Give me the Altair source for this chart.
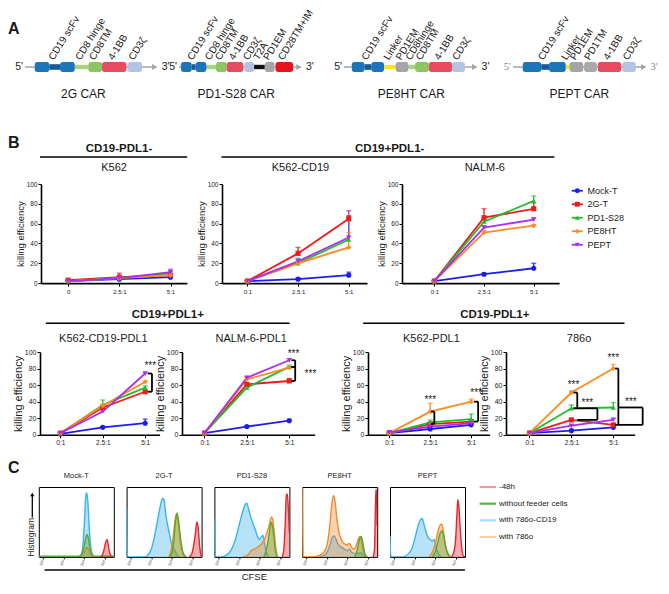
import json
import altair as alt
import pandas as pd

FONT = "Liberation Sans"
INK = "#1a1a1a"

# ======================= Panel A : CAR constructs =======================
CONSTRUCT_NAMES = ["2G CAR", "PD1-S28 CAR", "PE8HT CAR", "PEPT CAR"]
# (part, kind, relative length, label)
CAR_2G = [("lead", "line", 10, ""), ("scFv", "block", 15, "CD19 scFv"), ("neck", "neck", 11, "CD19 scFv"),
          ("scFv", "block", 15, "CD19 scFv"), ("CD8 hinge", "thin", 14, "CD8 hinge"), ("CD8TM", "block", 14, "CD8TM"),
          ("4-1BB", "block", 25, "4-1BB"), ("gap", "line", 1, ""), ("CD3z", "block", 15, "CD3ζ"), ("tail", "line", 15, "")]
CAR_PD1S28 = [("lead", "line", 2, ""), ("scFv", "block", 11, "CD19 scFv"), ("neck", "neck", 4, "CD19 scFv"),
              ("scFv", "block", 11, "CD19 scFv"), ("CD8 hinge", "thin", 10, "CD8 hinge"), ("CD8TM", "block", 11, "CD8TM"),
              ("4-1BB", "block", 17, "4-1BB"), ("gap", "line", 1, ""), ("CD3z", "block", 10, "CD3ζ"),
              ("T2A", "thin", 11, "T2A"), ("PD1EM", "block", 10, "PD1EM"), ("gap", "line", 1, ""),
              ("CD28TM+IM", "block", 18, "CD28TM+IM"), ("tail", "line", 8, "")]
CAR_PE8HT = [("lead", "line", 8, ""), ("scFv", "block", 13, "CD19 scFv"), ("neck", "neck", 7, "CD19 scFv"),
             ("scFv", "block", 13, "CD19 scFv"), ("Linker", "thin", 12, "Linker"), ("PD1EM", "block", 13, "PD1EM"),
             ("CD8 hinge", "thin", 7, "CD8hinge"), ("CD8TM", "block", 14, "CD8TM"), ("4-1BB", "block", 24, "4-1BB"),
             ("CD3z", "block", 13, "CD3ζ"), ("tail", "line", 12, "")]
CAR_PEPT = [("lead", "line", 10, ""), ("scFv", "block", 19, "CD19 scFv"), ("neck", "neck", 8, "CD19 scFv"),
            ("scFv", "block", 17, "CD19 scFv"), ("Linker", "thin", 4, "Linker"), ("PD1EM", "block", 14, "PD1EM"),
            ("gap", "line", 1, ""), ("PD1TM", "block", 13, "PD1TM"), ("gap", "line", 1, ""),
            ("4-1BB", "block", 24, "4-1BB"), ("gap", "line", 1, ""), ("CD3z", "block", 14, "CD3ζ"), ("tail", "line", 10, "")]
PART_ORDER = ["scFv", "neck", "CD8 hinge", "CD8TM", "4-1BB", "CD3z", "T2A", "PD1EM", "PD1TM", "CD28TM+IM", "Linker"]
PART_COLORS = ["#1b75bb", "#17599b", "#a9d37f", "#8cc660", "#e84a5f", "#b4c2e3", "#111111", "#a5a5a5", "#a9a9a9",
               "#e8141d", "#f4e81c"]

# ======================= Panel B : killing efficiency =======================
SERIES = ["Mock-T", "2G-T", "PD1-S28", "PE8HT", "PEPT"]
SERIES_COLORS = ["#1c1cf2", "#f01a1a", "#1fbf2a", "#ff8a1f", "#a92ef0"]
SERIES_SHAPES = ["circle", "square", "triangle-up", "diamond", "triangle-down"]
RATIOS = ["0:1", "2.5:1", "5:1"]
RATIOS_K562 = ["0", "2.5:1", "5:1"]

MEAN = {
    "K562": {"Mock-T": [2, 4, 6], "2G-T": [3, 6, 8], "PD1-S28": [2, 5, 10], "PE8HT": [2, 5, 8], "PEPT": [2, 5, 11]},
    "K562-CD19": {"Mock-T": [2, 4, 8], "2G-T": [2, 30, 65], "PD1-S28": [2, 20, 44], "PE8HT": [2, 20, 36], "PEPT": [2, 22, 46]},
    "NALM-6": {"Mock-T": [2, 9, 15], "2G-T": [2, 66, 75], "PD1-S28": [2, 62, 83], "PE8HT": [2, 51, 58], "PEPT": [2, 56, 64]},
    "K562-CD19-PDL1": {"Mock-T": [1, 9, 14], "2G-T": [2, 33, 52], "PD1-S28": [2, 36, 57], "PE8HT": [2, 35, 64], "PEPT": [2, 28, 74]},
    "NALM-6-PDL1": {"Mock-T": [2, 10, 17], "2G-T": [2, 61, 65], "PD1-S28": [2, 57, 82], "PE8HT": [2, 67, 81], "PEPT": [2, 69, 90]},
    "K562-PDL1": {"Mock-T": [2, 7, 12], "2G-T": [2, 13, 16], "PD1-S28": [2, 15, 19], "PE8HT": [2, 28, 40], "PEPT": [3, 10, 14]},
    "786o": {"Mock-T": [2, 5, 9], "2G-T": [2, 18, 12], "PD1-S28": [2, 32, 33], "PE8HT": [2, 51, 80], "PEPT": [2, 11, 18]},
}
SD = {
    "K562": {"Mock-T": [0.5, 1, 2], "2G-T": [0.5, 4, 1], "PD1-S28": [0.5, 1, 2], "PE8HT": [0.5, 1, 1], "PEPT": [0.5, 1, 3]},
    "K562-CD19": {"Mock-T": [0.5, 1, 3], "2G-T": [0.5, 6, 3], "PD1-S28": [0.5, 5, 19], "PE8HT": [0.5, 2, 15], "PEPT": [0.5, 2, 27]},
    "NALM-6": {"Mock-T": [0.5, 1, 5], "2G-T": [0.5, 9, 6], "PD1-S28": [0.5, 2, 5], "PE8HT": [0.5, 2, 1], "PEPT": [0.5, 2, 2]},
    "K562-CD19-PDL1": {"Mock-T": [0.5, 1, 5], "2G-T": [0.5, 2, 2], "PD1-S28": [0.5, 6, 2], "PE8HT": [0.5, 2, 1], "PEPT": [0.5, 2, 1]},
    "NALM-6-PDL1": {"Mock-T": [0.5, 1, 2], "2G-T": [0.5, 2, 3], "PD1-S28": [0.5, 1, 2], "PE8HT": [0.5, 1, 1], "PEPT": [0.5, 1, 2]},
    "K562-PDL1": {"Mock-T": [0.5, 1, 1], "2G-T": [0.5, 1, 2], "PD1-S28": [0.5, 3, 6], "PE8HT": [0.5, 10, 3], "PEPT": [0.5, 1, 1]},
    "786o": {"Mock-T": [0.5, 1, 1], "2G-T": [0.5, 1, 1], "PD1-S28": [0.5, 4, 6], "PE8HT": [0.5, 2, 5], "PEPT": [0.5, 1, 2]},
}
# significance: target, ratio index, upper series, lower series
SIG = [
    ("K562-CD19-PDL1", 2, "PEPT", "2G-T"),
    ("NALM-6-PDL1", 2, "PEPT", "PD1-S28"),
    ("NALM-6-PDL1", 2, "PD1-S28", "2G-T"),
    ("K562-PDL1", 1, "PE8HT", "2G-T"),
    ("K562-PDL1", 2, "PE8HT", "2G-T"),
    ("786o", 1, "PE8HT", "PD1-S28"),
    ("786o", 1, "PD1-S28", "2G-T"),
    ("786o", 2, "PE8HT", "2G-T"),
    ("786o", 2, "PD1-S28", "2G-T"),
]
# bracket drawing style: vertical-line offset, cap end offset, star x offset, star y offset (None = right side)
SIG_STYLE = [(0.16, 0.06, 0.12, 9), (0.14, 0.05, 0.10, 8), (0.14, 0.05, 0.50, None), (0.10, 0.02, 0.0, 14),
             (0.17, 0.07, 0.12, 10), (0.14, 0.05, 0.05, 9), (0.62, 0.14, 0.38, 6), (0.12, 0.04, 0.0, 13),
             (0.70, 0.12, 0.42, 7)]

# ======================= Panel C : CFSE histograms =======================
HIST_PANELS = ["Mock-T", "2G-T", "PD1-S28", "PE8HT", "PEPT"]
HIST_SERIES = ["-48h", "without feeder cells", "with 786o-CD19", "with 786o"]
HIST_LINE_COLORS = {"-48h": "#e3262e", "without feeder cells": "#5aa832", "with 786o-CD19": "#3cb4e7", "with 786o": "#f28a2e"}
HIST_LEGEND_COLORS = ["#f2979b", "#5db336", "#a8dff6", "#fbcf9f"]
HIST_DRAW = ["with 786o-CD19", "with 786o", "without feeder cells", "-48h"]
# (log10 CFSE, relative count %)
HIST = {
    "Mock-T": {
        "with 786o-CD19": [(3.70, 0), (3.85, 3), (3.95, 17), (4.02, 50), (4.08, 84), (4.13, 92), (4.18, 82), (4.25, 45), (4.32, 17), (4.40, 4), (4.50, 0)],
        "with 786o": [(3.85, 0), (3.98, 5), (4.08, 11), (4.15, 14), (4.22, 10), (4.32, 3), (4.42, 0)],
        "without feeder cells": [(1.80, 1), (3.80, 1), (3.92, 6), (4.02, 17), (4.10, 29), (4.16, 32), (4.22, 25), (4.30, 11), (4.40, 3), (4.48, 1), (5.45, 1)],
        "-48h": [(4.80, 0), (4.90, 3), (4.98, 11), (5.05, 20), (5.12, 25), (5.18, 17), (5.25, 6), (5.32, 1), (5.40, 0)],
    },
    "2G-T": {
        "with 786o-CD19": [(1.80, 70), (1.84, 0), (2.70, 0), (2.85, 3), (3.00, 11), (3.15, 28), (3.30, 51), (3.45, 74), (3.55, 84), (3.62, 82), (3.70, 62), (3.80, 45), (3.88, 34), (3.95, 23), (4.05, 14), (4.15, 9), (4.25, 3), (4.40, 0)],
        "with 786o": [(3.85, 0), (3.95, 7), (4.05, 25), (4.15, 51), (4.22, 61), (4.30, 51), (4.40, 25), (4.50, 8), (4.60, 1), (4.70, 0)],
        "without feeder cells": [(3.90, 0), (4.00, 6), (4.10, 23), (4.18, 51), (4.25, 63), (4.32, 54), (4.42, 28), (4.52, 9), (4.62, 2), (4.72, 0)],
        "-48h": [(4.85, 0), (4.95, 3), (5.05, 14), (5.15, 34), (5.22, 50), (5.28, 43), (5.35, 17), (5.42, 2), (5.45, 0)],
    },
    "PD1-S28": {
        "with 786o-CD19": [(1.80, 55), (1.84, 0), (2.10, 0), (2.40, 3), (2.60, 9), (2.80, 23), (3.00, 45), (3.15, 62), (3.30, 75), (3.38, 77), (3.45, 70), (3.55, 59), (3.65, 50), (3.78, 40), (3.90, 29), (3.99, 25), (4.08, 28), (4.16, 31), (4.25, 17), (4.35, 5), (4.45, 0)],
        "with 786o": [(3.20, 0), (3.44, 3), (3.60, 9), (3.80, 12), (4.00, 16), (4.20, 23), (4.35, 34), (4.48, 47), (4.58, 57), (4.65, 52), (4.72, 34), (4.80, 11), (4.85, 2), (4.90, 0)],
        "without feeder cells": [(4.20, 0), (4.30, 7), (4.40, 20), (4.48, 36), (4.55, 50), (4.60, 47), (4.68, 32), (4.76, 11), (4.83, 2), (4.90, 0)],
        "-48h": [(5.10, 0), (5.18, 11), (5.25, 50), (5.30, 88), (5.35, 90), (5.40, 68), (5.45, 34)],
    },
    "PE8HT": {
        "with 786o-CD19": [(2.60, 0), (2.90, 3), (3.05, 9), (3.15, 17), (3.25, 27), (3.35, 30), (3.45, 25), (3.55, 18), (3.70, 14), (3.85, 11), (4.00, 9), (4.10, 11), (4.20, 7), (4.35, 5), (4.50, 5), (4.65, 6), (4.75, 3), (4.85, 0)],
        "with 786o": [(1.80, 100), (1.84, 0), (2.30, 0), (2.50, 1), (2.70, 3), (2.90, 9), (3.05, 23), (3.15, 47), (3.25, 77), (3.32, 88), (3.40, 79), (3.50, 51), (3.60, 34), (3.70, 25), (3.80, 20), (3.90, 18), (4.00, 17), (4.05, 19), (4.10, 19), (4.20, 14), (4.30, 11), (4.40, 14), (4.50, 23), (4.60, 29), (4.65, 28), (4.72, 17), (4.80, 6), (4.90, 1), (5.00, 0)],
        "without feeder cells": [(4.35, 0), (4.45, 6), (4.55, 20), (4.62, 28), (4.68, 29), (4.75, 20), (4.83, 7), (4.90, 1), (4.95, 0)],
        "-48h": [(5.25, 0), (5.32, 11), (5.36, 68), (5.39, 97), (5.42, 90), (5.45, 45)],
    },
    "PEPT": {
        "with 786o-CD19": [(1.80, 30), (1.84, 0), (2.40, 0), (2.60, 2), (2.71, 5), (2.85, 11), (3.00, 25), (3.15, 43), (3.30, 54), (3.37, 55), (3.45, 47), (3.55, 36), (3.65, 28), (3.75, 25), (3.85, 23), (3.95, 25), (4.00, 19), (4.10, 9), (4.20, 3), (4.30, 0)],
        "with 786o": [(3.70, 0), (3.85, 6), (3.99, 17), (4.10, 32), (4.20, 43), (4.30, 47), (4.38, 40), (4.48, 20), (4.60, 6), (4.75, 1), (4.80, 0)],
        "without feeder cells": [(3.85, 0), (4.00, 7), (4.12, 20), (4.22, 32), (4.32, 37), (4.40, 32), (4.50, 16), (4.60, 5), (4.72, 0)],
        "-48h": [(4.80, 0), (4.90, 6), (5.00, 28), (5.06, 62), (5.10, 82), (5.15, 73), (5.22, 40), (5.30, 11), (5.38, 1), (5.45, 0)],
    },
}

# ======================= tables =======================
rows = []
for tgt in MEAN:
    for s in SERIES:
        for i in range(3):
            rows.append({"target": tgt, "series": s, "xi": i, "mean": MEAN[tgt][s][i], "err": SD[tgt][s][i]})
bdf = pd.DataFrame(rows)

sig_rows = []
for (tgt, ri, up, lo), (vx, cx, sx, sy) in zip(SIG, SIG_STYLE):
    yu, yl = MEAN[tgt][up][ri], MEAN[tgt][lo][ri]
    sig_rows.append({"target": tgt, "xv": ri + vx, "xc": ri + cx, "y_up": yu, "y_lo": yl,
                     "sx": ri + sx, "sy": (yu + yl) / 2 if sy is None else yu + sy, "txt": "***"})
sdf = pd.DataFrame(sig_rows)

hrows = []
for p in HIST_PANELS:
    for s, pts in HIST[p].items():
        for lx, c in pts:
            hrows.append({"panel": p, "series": s, "logc": lx, "count": c})
hdf = pd.DataFrame(hrows)


# ======================= helpers =======================
def label(text, x, y, size, weight="normal", align="center", angle=None, color=INK, font=None, baseline="middle"):
    mk = dict(fontSize=size, fontWeight=weight, align=align, baseline=baseline, color=color)
    if angle is not None:
        mk["angle"] = angle
    if font:
        mk["font"] = font
    return alt.Chart(pd.DataFrame({"t": [text]})).mark_text(**mk).encode(
        text="t:N", x=alt.value(x), y=alt.value(y))


def hline(x0, x1, y, width=1.5, color="#000"):
    return alt.Chart(pd.DataFrame({"a": [0]})).mark_rule(strokeWidth=width, color=color).encode(
        x=alt.value(x0), x2=alt.value(x1), y=alt.value(y))


def spacer(w, h=1, letter=None, ly=0):
    if letter:
        c = label(letter, 0, ly, 16, weight="bold", align="left")
    else:
        c = alt.Chart(pd.DataFrame({"t": [""]})).mark_text().encode(text="t:N")
    return c.properties(width=w, height=h)


COLOR = alt.Color("series:N", scale=alt.Scale(domain=SERIES, range=SERIES_COLORS), legend=None)
SHAPE = alt.Shape("series:N", scale=alt.Scale(domain=SERIES, range=SERIES_SHAPES), legend=None)

# ----- Panel A charts -----
PX_PER_UNIT = 0.975


def construct_chart(segs, name, width, name_x, end_font=None, end_color=INK):
    rs, pos = [], 0.0
    for part, kind, length, lab in segs:
        rs.append({"part": part, "kind": kind, "start": pos, "end": pos + length, "label": lab})
        pos += length
    d = pd.DataFrame(rs)
    total = pos
    xs = alt.Scale(domain=[0, width / PX_PER_UNIT], nice=False, zero=False)

    def X(f):
        return alt.X(f"{f}:Q", scale=xs, axis=None)

    fill = alt.Fill("part:N", scale=alt.Scale(domain=PART_ORDER, range=PART_COLORS), legend=None)
    bb = alt.Chart(pd.DataFrame({"s": [0.0], "e": [total]}))
    backbone = bb.mark_rule(color="#a3a3a3", strokeWidth=1.6).encode(x=X("s"), x2="e:Q", y=alt.value(5))
    head = bb.mark_point(shape="triangle-right", filled=True, size=34, color="#a3a3a3", opacity=1,
                         xOffset=-2).encode(x=X("e"), y=alt.value(5))
    blocks = alt.Chart(d[d.kind == "block"]).mark_rect(cornerRadius=2.5).encode(
        x=X("start"), x2="end:Q", y=alt.value(0), y2=alt.value(10), fill=fill)
    thin = alt.Chart(d[d.kind == "thin"]).mark_rect().encode(
        x=X("start"), x2="end:Q", y=alt.value(2.8), y2=alt.value(7.2), fill=fill)
    neck = alt.Chart(d[d.kind == "neck"]).mark_rect().encode(
        x=X("start"), x2="end:Q", y=alt.value(2.2), y2=alt.value(7.8), fill=fill)
    labs = d[d.label != ""].groupby("label", sort=False).agg(start=("start", "min"), end=("end", "max")).reset_index()
    labs["c"] = (labs["start"] + labs["end"]) / 2
    texts = alt.Chart(labs).mark_text(angle=302, align="left", baseline="alphabetic", fontSize=10, dx=-2,
                                      color=INK).encode(x=X("c"), y=alt.value(-3), text="label:N")
    five = label("5'", -2, 5, 10.5, align="right", color=end_color, font=end_font)
    three = label("3'", total * PX_PER_UNIT + 5, 5, 10.5, align="left", color=end_color, font=end_font)
    nm = label(name, name_x, 32, 12)
    return alt.layer(backbone, thin, neck, blocks, head, texts, five, three, nm).properties(width=width, height=10)


cA1 = construct_chart(CAR_2G, CONSTRUCT_NAMES[0], 153.1, 58.4)
cA2 = construct_chart(CAR_PD1S28, CONSTRUCT_NAMES[1], 164.7, 57.3)
cA3 = construct_chart(CAR_PE8HT, CONSTRUCT_NAMES[2], 168.7, 67.3)
cA4 = construct_chart(CAR_PEPT, CONSTRUCT_NAMES[3], 132.6, 66.3, end_font="Liberation Serif", end_color="#8a8a8a")
rowA = alt.hconcat(spacer(16.6, 10, "A", -33.4), cA1, cA2, cA3, cA4, spacing=0, bounds="flush")


# ----- Panel B charts -----
def line_panel(target, width, height, domain, tick_labels, title_size, label_size, deco):
    d = bdf[bdf.target == target]
    xs = alt.Scale(domain=domain, nice=False, zero=False)
    ys = alt.Scale(domain=[0, 100], nice=False)
    xaxis = alt.Axis(values=[0, 1, 2], labelExpr=json.dumps(tick_labels) + "[datum.value]", title=None,
                     labelFontSize=label_size - 0.5, labelColor="#222", labelPadding=2, tickSize=3,
                     tickColor="#000", tickWidth=1, domainColor="#000", domainWidth=1.6, grid=False)
    yaxis = alt.Axis(values=[0, 20, 40, 60, 80, 100], title="killing efficiency", titleFontSize=title_size,
                     titleFontWeight="normal", titleColor=INK, titlePadding=1, labelFontSize=label_size,
                     labelColor="#222", labelPadding=1, tickSize=3, tickColor="#000", tickWidth=1,
                     domainColor="#000", domainWidth=1.6, grid=False)

    def X(f):
        return alt.X(f"{f}:Q", scale=xs, axis=xaxis)

    def Y(f):
        return alt.Y(f"{f}:Q", scale=ys, axis=yaxis)

    base = alt.Chart(d).transform_calculate(hi="datum.mean + datum.err")
    line = base.mark_line(strokeWidth=1.8).encode(x=X("xi"), y=Y("mean"), color=COLOR)
    err = base.mark_rule(strokeWidth=1.3).encode(x=X("xi"), y=Y("mean"), y2="hi:Q", color=COLOR)
    cap = base.mark_tick(orient="horizontal", size=5, thickness=1.3).encode(x=X("xi"), y=Y("hi"), color=COLOR)
    pts = base.mark_point(filled=True, size=26, opacity=1).encode(x=X("xi"), y=Y("mean"), color=COLOR, shape=SHAPE)
    layers = [line, err, cap, pts]
    sd = sdf[sdf.target == target]
    if len(sd):
        sb = alt.Chart(sd)
        layers += [
            sb.mark_rule(strokeWidth=1.8, color="#000").encode(x=X("xv"), y=Y("y_up"), y2="y_lo:Q"),
            sb.mark_rule(strokeWidth=1.8, color="#000").encode(x=X("xc"), x2="xv:Q", y=Y("y_up")),
            sb.mark_rule(strokeWidth=1.8, color="#000").encode(x=X("xc"), x2="xv:Q", y=Y("y_lo")),
            sb.mark_text(fontSize=10, color=INK).encode(x=X("sx"), y=Y("sy"), text="txt:N"),
        ]
    layers += deco
    return alt.layer(*layers).properties(width=width, height=height)


TOP_H, BOT_H = 99.1, 82.8
P1 = line_panel("K562", 145.9, TOP_H, [-0.53, 2.32], RATIOS_K562, 9.5, 6.5,
                [label("CD19-PDL1-", 78, -34.6, 11.5, weight="bold"), hline(-1, 146.2, -26.9),
                 label("K562", 73.1, -16.3, 11)])
P2 = line_panel("K562-CD19", 145.0, TOP_H, [-0.5, 2.36], RATIOS, 9.5, 6.5,
                [label("CD19+PDL1-", 167.7, -34.6, 11.5, weight="bold"), hline(-0.5, 332.4, -26.9),
                 label("K562-CD19", 78.5, -16.3, 11)])
P3 = line_panel("NALM-6", 157.1, TOP_H, [-0.65, 2.51], RATIOS, 9.5, 6.5,
                [label("NALM-6", 82.8, -16.3, 11)])

leg_df = pd.DataFrame({"series": SERIES})
LY = alt.Y("series:N", scale=alt.Scale(type="point", domain=SERIES, padding=0.5), axis=None)
legB = alt.layer(
    alt.Chart(leg_df).mark_rule(strokeWidth=1.8).encode(x=alt.value(11.8), x2=alt.value(22.8), y=LY, color=COLOR),
    alt.Chart(leg_df).mark_point(filled=True, size=24, opacity=1).encode(x=alt.value(17.3), y=LY, color=COLOR, shape=SHAPE),
    alt.Chart(leg_df).mark_text(align="left", fontSize=9, color=INK).encode(x=alt.value(27.5), y=LY, text="series:N"),
).properties(width=70, height=67.5)

rowB1 = alt.hconcat(spacer(32.2, 1, "B", -41.3), P1, spacer(34.5), P2, spacer(34.5), P3, legB,
                    spacing=0, bounds="flush")

P4 = line_panel("K562-CD19-PDL1", 119.6, BOT_H, [-0.48, 2.34], RATIOS, 11, 7,
                [label("CD19+PDL1+", 127.8, -37.5, 11.5, weight="bold"), hline(5.8, 249.6, -28.8),
                 label("K562-CD19-PDL1", 63.4, -13.4, 11)])
P5 = line_panel("NALM-6-PDL1", 132.7, BOT_H, [-0.53, 2.6], RATIOS, 11, 7,
                [label("NALM-6-PDL1", 69.2, -13.4, 11)])
P6 = line_panel("K562-PDL1", 121.6, BOT_H, [-0.52, 2.45], RATIOS, 11, 7,
                [label("CD19-PDL1+", 126.8, -37.5, 11.5, weight="bold"), hline(-4.8, 256.5, -28.8),
                 label("K562-PDL1", 63.4, -13.4, 11)])
P7 = line_panel("786o", 128.7, BOT_H, [-0.56, 2.51], RATIOS, 11, 7,
                [label("786o", 73.1, -13.4, 11)])

rowB2 = alt.hconcat(spacer(31.2), P4, spacer(21.8), P5, spacer(52.5), P6, spacer(15.9), P7,
                    spacing=0, bounds="flush")

# ----- Panel C charts -----
SUP = ["⁰", "¹", "²", "³", "⁴", "⁵"]
HX_AXIS = alt.Axis(values=[2, 3, 4, 5], labelExpr="'10' + " + json.dumps(SUP) + "[datum.value]", title=None,
                   domain=False, tickSize=2, tickColor="#000", labelFontSize=4, labelAngle=300,
                   labelColor="#333", labelPadding=1, grid=False)
HXS = alt.Scale(domain=[1.8, 5.45], nice=False, zero=False)
HYS = alt.Scale(domain=[0, 100], nice=False)
BOX_W, BOX_H = 75, 69.9


def hist_chart(panel, extra=None):
    layers = []
    for s in HIST_DRAW:
        d = hdf[(hdf.panel == panel) & (hdf.series == s)]
        c = HIST_LINE_COLORS[s]
        enc = dict(x=alt.X("logc:Q", scale=HXS, axis=HX_AXIS), y=alt.Y("count:Q", scale=HYS, axis=None))
        layers.append(alt.Chart(d).mark_area(interpolate="monotone", color=c, opacity=0.38, clip=True).encode(**enc))
        layers.append(alt.Chart(d).mark_line(interpolate="monotone", color=c, strokeWidth=1.4, clip=True).encode(**enc))
    layers.append(label(panel, BOX_W / 2, -11.2, 7.5))
    if extra:
        layers += extra
    return alt.layer(*layers).properties(width=BOX_W, height=BOX_H,
                                         view=alt.ViewBackground(stroke="#000", strokeWidth=1))


arrow_extra = [
    alt.Chart(pd.DataFrame({"a": [0]})).mark_rule(strokeWidth=1.3, color="#000").encode(
        x=alt.value(-6.5), y=alt.value(30.4), y2=alt.value(8.5)),
    alt.Chart(pd.DataFrame({"a": [0]})).mark_point(shape="triangle-up", filled=True, size=18, color="#000",
                                                   opacity=1).encode(x=alt.value(-6.5), y=alt.value(7.5)),
    label("Histogram", -7.5, 50.3, 8.5, angle=270),
    hline(5.8, 426.1, 83, width=1.6),
    label("CFSE", 215.5, 89.8, 9.5),
]
H = [hist_chart(HIST_PANELS[0], arrow_extra)] + [hist_chart(p) for p in HIST_PANELS[1:]]

lc = pd.DataFrame({"s": HIST_SERIES})
LYC = alt.Y("s:N", scale=alt.Scale(type="point", domain=HIST_SERIES, padding=0), axis=None)
legC = alt.layer(
    alt.Chart(lc).mark_rule(strokeWidth=2.2).encode(
        x=alt.value(1.8), x2=alt.value(18.3), y=LYC,
        stroke=alt.Stroke("s:N", scale=alt.Scale(domain=HIST_SERIES, range=HIST_LEGEND_COLORS), legend=None)),
    alt.Chart(lc).mark_text(align="left", fontSize=8, color=INK).encode(x=alt.value(21.2), y=LYC, text="s:N"),
).properties(width=90, height=50)

rowC = alt.hconcat(spacer(17.4, 1, "C", -18.9), *H, legC, spacing=12.8, bounds="flush")

# rows are nested groups (zero size under flush bounds): spacer heights give top-to-top distances
chart = alt.vconcat(rowA, spacer(1, 121.4), rowB1, spacer(1, 167.4), rowB2, spacer(1, 134.4), rowC,
                    spacing=0, bounds="flush").properties(padding=0)
chart = chart.configure(font=FONT).configure_view(strokeWidth=0)

chart.save("out.html", embed_options={"renderer": "svg", "actions": False})
